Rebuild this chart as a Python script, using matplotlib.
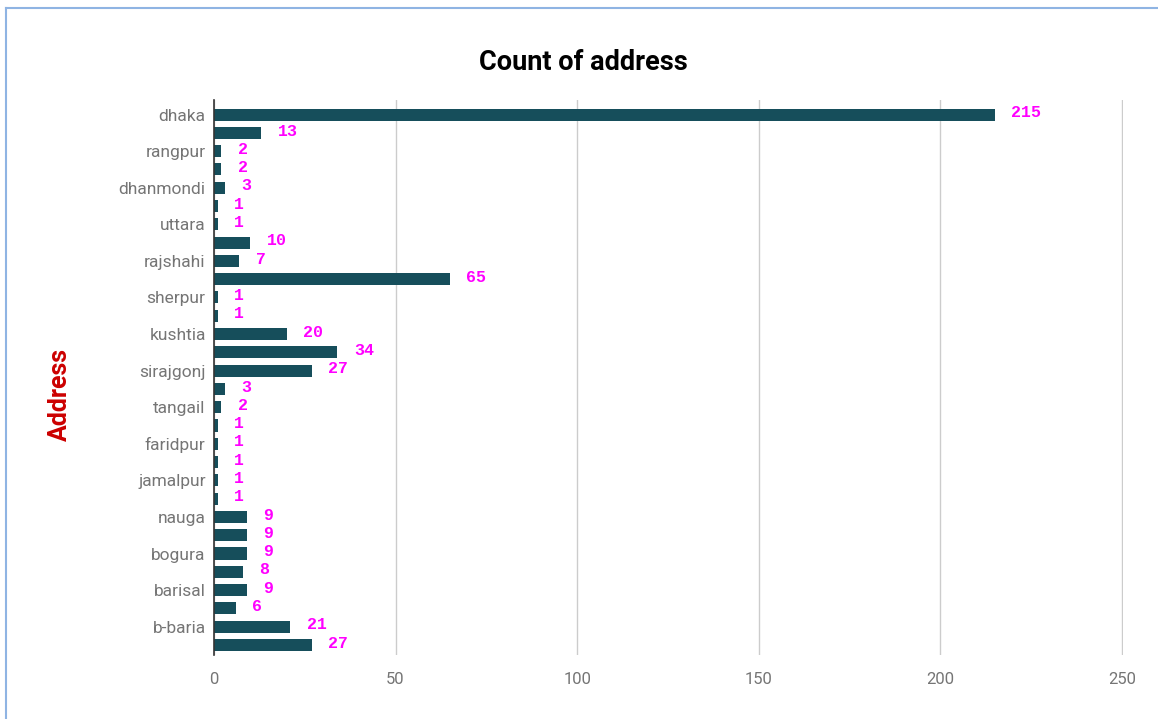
import matplotlib.pyplot as plt

# every second category name is hidden in the original chart
labels = ["dhaka", "", "rangpur", "", "dhanmondi", "", "uttara", "", "rajshahi", "",
          "sherpur", "", "kushtia", "", "sirajgonj", "", "tangail", "", "faridpur", "",
          "jamalpur", "", "nauga", "", "bogura", "", "barisal", "", "b-baria", ""]
counts = [215, 13, 2, 2, 3, 1, 1, 10, 7, 65, 1, 1, 20, 34, 27, 3, 2, 1, 1, 1,
          1, 1, 9, 9, 9, 8, 9, 6, 21, 27]
xticks = [0, 50, 100, 150, 200, 250]

fig = plt.figure(figsize=(11.58, 7.19), dpi=100)
ax = fig.add_axes([0.1848, 0.089, 0.785, 0.772])

pos = list(range(len(counts)))
ax.barh(pos, counts, height=0.66, color="#164e5b", zorder=3)

for p, c in zip(pos, counts):
    ax.text(c + 4.5, p - 0.1, str(c), color="#ff00ff", fontsize=12,
            family="Liberation Mono", fontweight="bold", va="center", ha="left")

ax.set_xlim(0, 250.3)
ax.set_ylim(29.55, -0.8)
ax.set_xticks(xticks)
ax.set_xticklabels([str(t) for t in xticks])
ax.set_yticks(pos)
ax.set_yticklabels(labels)
ax.tick_params(axis="both", length=0, colors="#757575", labelsize=12)
for lab in ax.get_xticklabels() + ax.get_yticklabels():
    lab.set_family("Roboto")
ax.tick_params(axis="y", pad=6, labelsize=12.5)
ax.tick_params(axis="x", pad=12)

ax.grid(axis="x", color="#cccccc", linewidth=1, zorder=0)
for s in ["top", "right", "bottom"]:
    ax.spines[s].set_visible(False)
ax.spines["left"].set_color("#333333")
ax.spines["left"].set_linewidth(1.2)
ax.spines["left"].set_zorder(4)

fig.text(0.504, 0.913, "Count of address", ha="center", va="center",
         fontsize=19.5, fontweight="bold", family="Roboto", color="#000000")
fig.text(0.052, 0.452, "Address", ha="center", va="center", rotation=90,
         fontsize=18, fontweight="bold", family="Roboto", color="#cc0000")

# light blue frame on the left and top edges
fig.add_artist(plt.Line2D([0.0052, 0.0052], [0, 0.989], color="#8fb4e3", linewidth=1.5))
fig.add_artist(plt.Line2D([0.0052, 1], [0.989, 0.989], color="#8fb4e3", linewidth=1.5))

fig.savefig("out.png", dpi=100)
